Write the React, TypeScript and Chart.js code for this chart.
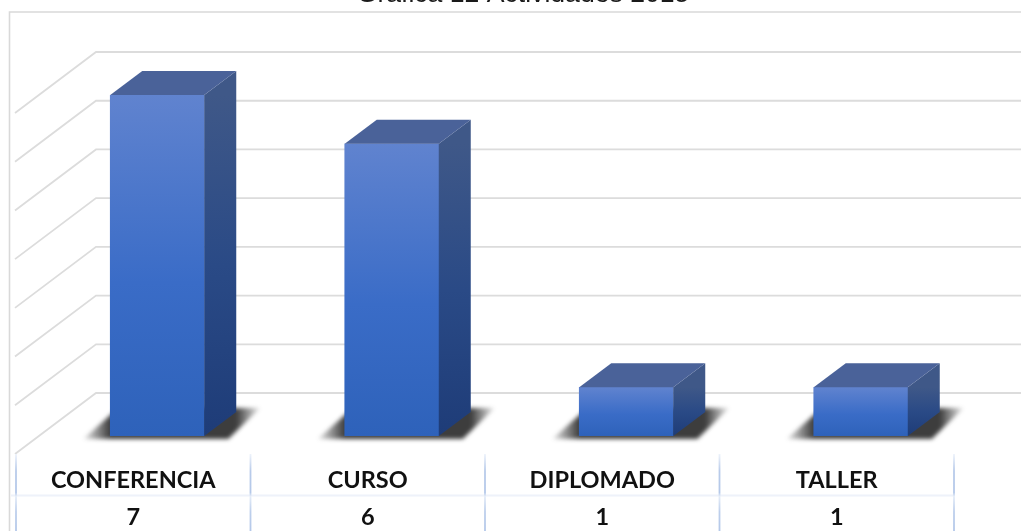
import React, { useEffect, useRef } from "react";
import { Chart, registerables } from "chart.js";

Chart.register(...registerables);

const titleText = "Gráfica 12 Actividades 2015";
const categories = ["CONFERENCIA", "CURSO", "DIPLOMADO", "TALLER"];
const seriesValues = [7, 6, 1, 1];
const tickLabels = categories.map((c, i) => [c, String(seriesValues[i])]);

const DEPTH_X = 32;
const DEPTH_Y = 24;
const WALL_DY = 43;
const WALL_LEFT = 96;
const FLOOR_DX = 81;
const FLOOR_DY = 61;
const TABLE_SHIFT = 24;

function poly(ctx: CanvasRenderingContext2D, pts: number[][]) {
  ctx.beginPath();
  pts.forEach((p, i) => (i ? ctx.lineTo(p[0], p[1]) : ctx.moveTo(p[0], p[1])));
  ctx.closePath();
}

const scenePlugin = {
  id: "scene3d",
  beforeDraw(chart: any) {
    // The reference title sits slightly right of the canvas centre.
    if (chart.titleBlock) {
      chart.titleBlock.left = 25;
      chart.titleBlock.right = chart.width;
    }
  },
  beforeDatasetsDraw(chart: any) {
    const { ctx, width, height } = chart;
    const y = chart.scales.y;
    const x = chart.scales.x;
    ctx.save();

    // Outer chart frame
    ctx.strokeStyle = "#d9d9d9";
    ctx.lineWidth = 1.6;
    ctx.beginPath();
    ctx.moveTo(9.5, height);
    ctx.lineTo(9.5, 12);
    ctx.lineTo(width, 12);
    ctx.stroke();

    // Back wall + side wall grid
    ctx.strokeStyle = "#dcdcdc";
    ctx.lineWidth = 1.8;
    y.ticks.forEach((t: any) => {
      const py = y.getPixelForValue(t.value) - WALL_DY;
      ctx.beginPath();
      ctx.moveTo(WALL_LEFT - FLOOR_DX, py + FLOOR_DY);
      ctx.lineTo(WALL_LEFT, py);
      ctx.lineTo(width, py);
      ctx.stroke();
    });

    // Data table rules
    const band = (x.right - x.left) / categories.length;
    const tableLeft = x.getPixelForValue(0) - TABLE_SHIFT - band / 2;
    const rowY = 495.5;
    ctx.strokeStyle = "#eef2fa";
    ctx.lineWidth = 2;
    ctx.beginPath();
    ctx.moveTo(11, rowY);
    ctx.lineTo(tableLeft + band * categories.length + 1, rowY);
    ctx.stroke();
    for (let i = 0; i <= categories.length; i++) {
      const lx = tableLeft + band * i;
      const g = ctx.createLinearGradient(0, 454, 0, height);
      g.addColorStop(0, "#eef3fb");
      g.addColorStop(0.22, "#b8cbea");
      g.addColorStop(0.5, "#b4c8e9");
      g.addColorStop(0.55, "#e4ecf8");
      g.addColorStop(0.75, "#bdcfec");
      g.addColorStop(1, "#b4c8e9");
      ctx.strokeStyle = g;
      ctx.lineWidth = 1.8;
      ctx.beginPath();
      ctx.moveTo(lx, 454);
      ctx.lineTo(lx, height);
      ctx.stroke();
    }

    // Floor shadows
    chart.getDatasetMeta(0).data.forEach((bar: any) => {
      const l = bar.x - bar.width / 2;
      const r = bar.x + bar.width / 2;
      const b = bar.base;
      const span = r + 58 - (l - 30);
      const sg = ctx.createLinearGradient(l - 30, 0, r + 58, 0);
      sg.addColorStop(0, "rgba(40,40,40,0)");
      sg.addColorStop(30 / span, "rgba(40,40,40,0.9)");
      sg.addColorStop((span - 26) / span, "rgba(40,40,40,0.9)");
      sg.addColorStop(1, "rgba(40,40,40,0)");
      ctx.save();
      ctx.filter = "blur(2px)";
      ctx.fillStyle = sg;
      poly(ctx, [
        [l - 27, b + 3],
        [r + 24, b + 3],
        [r + 56, b - 28],
        [l + 8, b - 28],
      ]);
      ctx.fill();
      ctx.restore();
    });
    ctx.restore();
  },
  afterDatasetsDraw(chart: any) {
    const { ctx } = chart;
    chart.getDatasetMeta(0).data.forEach((bar: any) => {
      const l = bar.x - bar.width / 2;
      const r = bar.x + bar.width / 2;
      const t = bar.y;
      const b = bar.base;
      ctx.save();
      const side = ctx.createLinearGradient(0, t, 0, b);
      side.addColorStop(0, "#3f5888");
      side.addColorStop(0.5, "#2a4a86");
      side.addColorStop(1, "#1e3c78");
      ctx.fillStyle = side;
      poly(ctx, [
        [r, t],
        [r + DEPTH_X, t - DEPTH_Y],
        [r + DEPTH_X, b - DEPTH_Y],
        [r, b],
      ]);
      ctx.fill();
      ctx.fillStyle = "#4a6299";
      poly(ctx, [
        [l, t],
        [l + DEPTH_X, t - DEPTH_Y],
        [r + DEPTH_X, t - DEPTH_Y],
        [r, t],
      ]);
      ctx.fill();
      ctx.restore();
    });
  },
};

function frontFill(ctx: any) {
  const chart = ctx.chart;
  const y = chart.scales.y;
  const value = seriesValues[ctx.dataIndex];
  if (!y || value === undefined) return "#3b6cc8";
  const top = y.getPixelForValue(value);
  const bottom = y.getPixelForValue(0);
  if (!Number.isFinite(top) || !Number.isFinite(bottom)) return "#3b6cc8";
  const g = chart.ctx.createLinearGradient(0, top, 0, bottom);
  g.addColorStop(0, "#6083cf");
  g.addColorStop(0.55, "#3a6cc7");
  g.addColorStop(1, "#2e62ba");
  return g;
}

export default function App() {
  const ref = useRef<HTMLCanvasElement | null>(null);
  useEffect(() => {
    if (!ref.current) return;
    const chart = new Chart(ref.current, {
      type: "bar",
      data: {
        labels: tickLabels,
        datasets: [
          {
            label: "Actividades",
            data: seriesValues,
            backgroundColor: frontFill,
            borderWidth: 0,
            barThickness: 94,
          },
        ],
      },
      options: {
        responsive: false,
        animation: false,
        layout: { padding: { left: 40, right: 43, top: 0, bottom: 0 } },
        plugins: {
          legend: { display: false },
          tooltip: { enabled: false },
          title: {
            display: true,
            text: titleText,
            color: "#1a1a1a",
            font: { family: "'Liberation Sans'", size: 26.6, weight: "normal" },
            padding: { top: -21.6, bottom: 84.7 },
          },
        },
        scales: {
          x: {
            grid: { display: false },
            border: { display: false },
            afterFit(scale: any) {
              scale.height = 95;
            },
            ticks: {
              autoSkip: false,
              maxRotation: 0,
              padding: 18,
              labelOffset: -TABLE_SHIFT,
              color: "#111111",
              font: { family: "Lato", size: 23.5, weight: "bold", lineHeight: 1.58 },
            },
          },
          y: {
            display: false,
            min: 0,
            max: 7,
            ticks: { stepSize: 1 },
          },
        },
      },
      plugins: [scenePlugin],
    } as any);
    chart.update();
    return () => chart.destroy();
  }, []);
  return (
    <div style={{ position: "fixed", left: 0, top: 0, width: 1021, height: 531, background: "#fff" }}>
      <canvas ref={ref} width={1021} height={531} style={{ display: "block" }} />
    </div>
  );
}
